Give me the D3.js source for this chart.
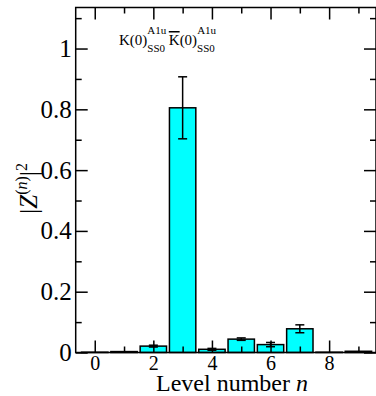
<!DOCTYPE html>
<html><head><meta charset="utf-8">
<script src="https://cdn.jsdelivr.net/npm/d3@7"></script>
<style>body{margin:0;background:#fff}svg{display:block}text{font-family:"Liberation Serif","Times New Roman",serif}</style>
</head><body><div id="c"></div>
<script>
const levels = [0,1,2,3,4,5,6,7,8,9];
const values = [0.001,0.003,0.021,0.805,0.0105,0.044,0.026,0.078,0.001,0.004];
const errors = [0,0,0.003,0.102,0.003,0.004,0.007,0.013,0,0];
const xTickLabels = [0,2,4,6,8];
const yTickLabels = [0,0.2,0.4,0.6,0.8,1];

const W=376,H=396;
const svg=d3.select("#c").append("svg").attr("width",W).attr("height",H);
const L=75.7,R=376,T=7.5,B=352.5;
const x=d3.scaleLinear().domain([-0.65,9.6]).range([L,R]);
const y=d3.scaleLinear().domain([0,1.135]).range([B,T]);
const bw=0.9;
const serif='"Liberation Serif","Times New Roman",serif';

// bars
svg.append("g").selectAll("rect").data(levels).join("rect")
 .attr("x",d=>x(d-bw/2)).attr("width",x(bw)-x(0))
 .attr("y",(d,i)=>y(values[i])).attr("height",(d,i)=>B-y(values[i]))
 .attr("fill","#00ffff").attr("stroke","#000").attr("stroke-width",1.5);

// error bars
const eg=svg.append("g").attr("stroke","#000").attr("stroke-width",1.5);
levels.forEach((d,i)=>{
  if(!errors[i]) return;
  const cx=x(d), y1=y(values[i]+errors[i]), y0=y(values[i]-errors[i]);
  eg.append("line").attr("x1",cx).attr("x2",cx).attr("y1",y1).attr("y2",y0);
  eg.append("line").attr("x1",cx-4.5).attr("x2",cx+4.5).attr("y1",y1).attr("y2",y1);
  eg.append("line").attr("x1",cx-4.5).attr("x2",cx+4.5).attr("y1",y0).attr("y2",y0);
});

// axes
const xMaj=xTickLabels, xMin=[1,3,5,7,9];
const yMaj=yTickLabels, yMin=[0.1,0.3,0.5,0.7,0.9,1.1];
function styleAxis(g){g.attr("font-family",null);g.select(".domain").remove();g.selectAll("line").attr("stroke","#000").attr("stroke-width",1.5);}
svg.append("g").attr("transform",`translate(0,${B})`)
 .call(d3.axisBottom(x).tickValues(xMaj).tickSizeInner(-12).tickSizeOuter(0).tickPadding(3).tickFormat(d3.format("d")))
 .call(styleAxis).call(g=>g.selectAll("text").style("font-size","20px").style("font-family",serif).attr("fill","#000"));
svg.append("g").attr("transform",`translate(0,${B})`)
 .call(d3.axisBottom(x).tickValues(xMin).tickSizeInner(-6).tickSizeOuter(0).tickFormat(""))
 .call(styleAxis);
svg.append("g").attr("transform",`translate(0,${T})`)
 .call(d3.axisTop(x).tickValues(xMaj).tickSizeInner(-12).tickSizeOuter(0).tickFormat(""))
 .call(styleAxis);
svg.append("g").attr("transform",`translate(0,${T})`)
 .call(d3.axisTop(x).tickValues(xMin).tickSizeInner(-6).tickSizeOuter(0).tickFormat(""))
 .call(styleAxis);
svg.append("g").attr("transform",`translate(${L},0)`)
 .call(d3.axisLeft(y).tickValues(yMaj).tickSizeInner(-12).tickSizeOuter(0).tickPadding(4).tickFormat(d=>d===0?"0":d===1?"1":d3.format(".1f")(d)))
 .call(styleAxis).call(g=>g.selectAll("text").style("font-size","25px").style("font-family",serif).attr("fill","#000"));
svg.append("g").attr("transform",`translate(${L},0)`)
 .call(d3.axisLeft(y).tickValues(yMin).tickSizeInner(-6).tickSizeOuter(0).tickFormat(""))
 .call(styleAxis);
svg.append("g").attr("transform",`translate(${R},0)`)
 .call(d3.axisRight(y).tickValues(yMaj).tickSizeInner(-12).tickSizeOuter(0).tickFormat(""))
 .call(styleAxis);
svg.append("g").attr("transform",`translate(${R},0)`)
 .call(d3.axisRight(y).tickValues(yMin).tickSizeInner(-6).tickSizeOuter(0).tickFormat(""))
 .call(styleAxis);

// frame
svg.append("rect").attr("x",L).attr("y",T).attr("width",R-L).attr("height",B-T)
 .attr("fill","none").attr("stroke","#000").attr("stroke-width",1.5);

// x title
const xt=svg.append("text").attr("x",232).attr("y",391).attr("text-anchor","middle").style("font-size","24px").attr("fill","#000");
xt.append("tspan").text("Level number ");
xt.append("tspan").attr("font-style","italic").text("n");

// y title
const yt=svg.append("text").attr("transform",`translate(37,${y(0.54)}) rotate(-90)`).attr("text-anchor","middle").style("font-size","25px").attr("fill","#000");
yt.append("tspan").text("|");
yt.append("tspan").attr("font-style","italic").text("Z");
yt.append("tspan").attr("font-size",16).attr("dy",-10).text("(");
yt.append("tspan").attr("font-size",16).attr("font-style","italic").text("n");
yt.append("tspan").attr("font-size",16).text(")");
yt.append("tspan").attr("dy",10).text("|");
yt.append("tspan").attr("font-size",16).attr("dy",-10).text("2");

// annotation
const an=svg.append("text").attr("x",119).attr("y",45).style("font-size","15px").attr("fill","#000");
an.append("tspan").text("K(0)");
an.append("tspan").attr("font-size",11).attr("dy",-11).text("A1u");
an.append("tspan").attr("font-size",11).attr("dx",-19).attr("dy",18).text("SS0");
an.append("tspan").attr("dy",-7).text(" ");
an.append("tspan").attr("text-decoration","overline").text("K");
an.append("tspan").text("(0)");
an.append("tspan").attr("font-size",11).attr("dy",-11).text("A1u");
an.append("tspan").attr("font-size",11).attr("dx",-19).attr("dy",18).text("SS0");
</script></body></html>
